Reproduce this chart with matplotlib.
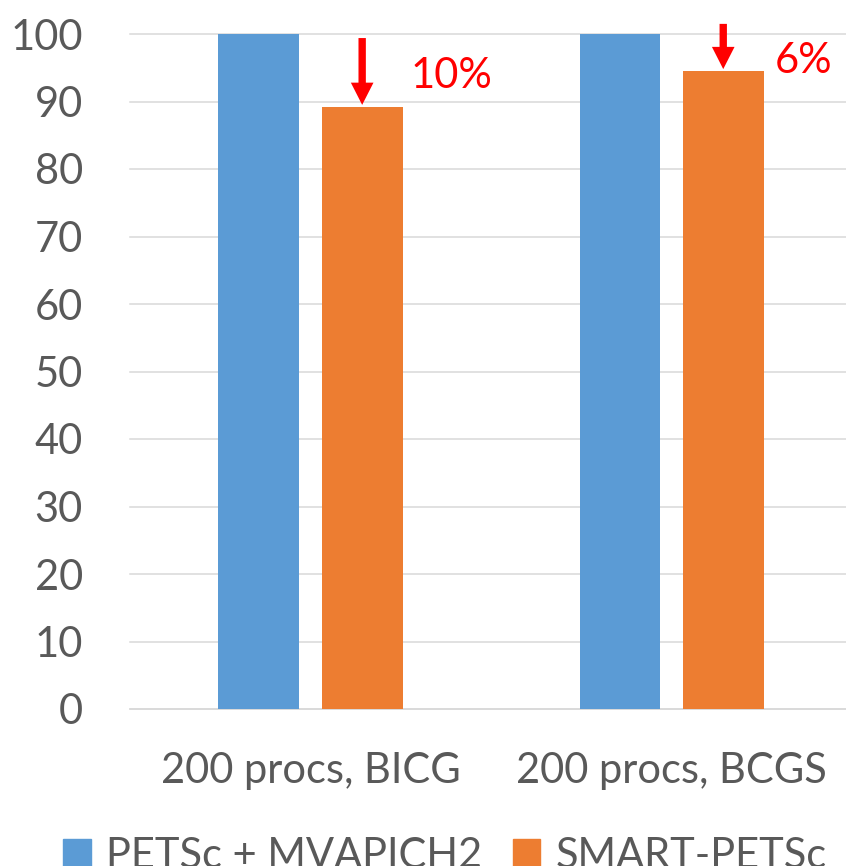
import numpy as np
import matplotlib
matplotlib.use("Agg")
import matplotlib.pyplot as plt
from matplotlib.patches import FancyArrowPatch, ArrowStyle, Patch

plt.rcParams.update({'font.family': ['Lato', 'DejaVu Sans']})

# chart data
groups = ['200 procs, BICG', '200 procs, BCGS']
series = ['PETSc + MVAPICH2', 'SMART-PETSc']
petsc_mvapich = [100, 100]
smart_petsc = [89.2, 94.5]
drop_labels = ['10%', '6%']
arrow_tops = [99.4, 101.5]
label_y = [92.0, 94.2]
yticks = np.arange(0, 101, 10)

colors = ['#5B9BD5', '#ED7D31']
grid_col = '#D9D9D9'
text_col = '#595959'
fs = 30

W, H = 846, 866
fig = plt.figure(figsize=(W / 100, H / 100), dpi=100)
ax = fig.add_axes([130 / W, 157 / H, 716 / W, 675 / H])

x = np.arange(len(groups))
bw = 0.224
off = 0.143
ax.bar(x - off, petsc_mvapich, bw, color=colors[0], label=series[0], zorder=3)
ax.bar(x + off, smart_petsc, bw, color=colors[1], label=series[1], zorder=3)

ax.set_xlim(-0.5, 1.483)
ax.set_ylim(0, 100)
ax.set_yticks(yticks)
ax.set_xticks(x)
ax.set_xticklabels(groups)

ax.yaxis.grid(True, color=grid_col, linewidth=1.1)
for gl in ax.get_ygridlines():
    gl.set_clip_on(False)
ax.set_axisbelow(True)
for s in ['top', 'right', 'left']:
    ax.spines[s].set_visible(False)
ax.spines['bottom'].set_color(grid_col)
ax.spines['bottom'].set_linewidth(1.1)
ax.tick_params(axis='both', length=0, labelsize=fs, labelcolor=text_col)
ax.tick_params(axis='y', pad=34)
ax.tick_params(axis='x', pad=31)

# red arrows marking the reduction
style = ArrowStyle.Simple(head_length=16, head_width=16.3, tail_width=5.3)
for i in range(len(groups)):
    arr = FancyArrowPatch((x[i] + off, arrow_tops[i]), (x[i] + off, smart_petsc[i] + 0.3),
                          arrowstyle=style, mutation_scale=1, color='#FF0000',
                          lw=0, shrinkA=0, shrinkB=0, clip_on=False, zorder=5)
    ax.add_patch(arr)

ax.text(x[0] + off + 0.135, label_y[0], drop_labels[0], color='#FF0000', fontsize=fs,
        ha='left', va='baseline')
ax.text(x[1] + off + 0.144, label_y[1], drop_labels[1], color='#FF0000', fontsize=fs,
        ha='left', va='baseline')

handles = [Patch(color=colors[0]), Patch(color=colors[1])]
fig.legend(handles, series, loc='center', bbox_to_anchor=(445 / W, (H - 856) / H), ncol=2,
           frameon=False, fontsize=fs, labelcolor=text_col, handlelength=0.67,
           handleheight=0.67, handletextpad=0.36, columnspacing=0.72,
           borderpad=0, borderaxespad=0)

fig.savefig('out.png', dpi=100)
